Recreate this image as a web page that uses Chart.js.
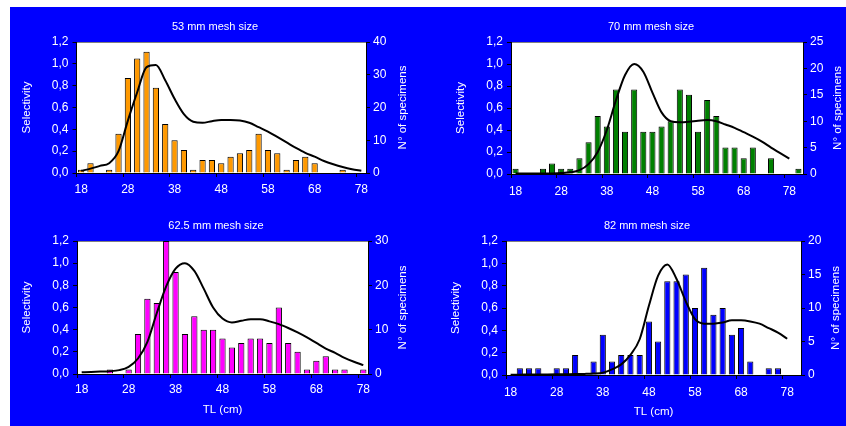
<!DOCTYPE html>
<html>
<head>
<meta charset="utf-8">
<title>Gillnet selectivity by mesh size</title>
<script src="https://cdn.jsdelivr.net/npm/chart.js@4/dist/chart.umd.min.js"></script>
<style>
  html, body { margin: 0; padding: 0; width: 846px; height: 426px; overflow: hidden; background: #ffffff; }
  #board { position: absolute; left: 10px; top: 7px; right: 0; bottom: 0; background: #0000ff; }
  canvas { position: absolute; }
</style>
</head>
<body>
<div id="board"></div>
<canvas id="c53" width="413" height="206" style="left:10px;top:7px"></canvas>
<canvas id="c70" width="423" height="206" style="left:423px;top:7px"></canvas>
<canvas id="c625" width="413" height="213" style="left:10px;top:213px"></canvas>
<canvas id="c82" width="423" height="213" style="left:423px;top:213px"></canvas>
<script>
// Total length classes (cm), 2 cm bins
const lengthClasses = ['18','20','22','24','26','28','30','32','34','36','38','40','42','44','46','48','50','52','54','56','58','60','62','64','66','68','70','72','74','76','78'];
const lengthClassesTo80 = ['18','20','22','24','26','28','30','32','34','36','38','40','42','44','46','48','50','52','54','56','58','60','62','64','66','68','70','72','74','76','78','80'];

// 53 mm mesh
const specimens53   = [1, 3, 0, 1, 12, 29, 35, 37, 26, 15, 10, 7, 1, 4, 4, 3, 5, 6, 7, 12, 7, 6, 1, 4, 5, 3, 0, 0, 1, 0, 0];
const selectivity53 = [0.02, 0.04, 0.065, 0.09, 0.2, 0.48, 0.74, 0.97, 0.99, 0.85, 0.68, 0.54, 0.47, 0.46, 0.475, 0.485, 0.485, 0.48, 0.46, 0.42, 0.38, 0.33, 0.28, 0.23, 0.185, 0.15, 0.11, 0.08, 0.055, 0.035, 0.02];

// 70 mm mesh
const specimens70   = [1, 0, 0, 1, 2, 1, 1, 3, 6, 11, 9, 16, 8, 16, 8, 8, 9, 10, 16, 15, 8, 14, 11, 5, 5, 3, 5, 0, 3, 0, 0, 1];
const selectivity70 = [0.005, 0.004, 0.004, 0.004, 0.005, 0.008, 0.015, 0.035, 0.09, 0.2, 0.4, 0.67, 0.9, 1.0, 0.93, 0.74, 0.56, 0.48, 0.47, 0.475, 0.485, 0.49, 0.48, 0.45, 0.42, 0.38, 0.34, 0.295, 0.24, 0.19, 0.14, null];

// 62.5 mm mesh
const specimens625   = [0, 0, 0, 1, 0, 1, 9, 17, 16, 30, 23, 9, 13, 10, 10, 8, 6, 7, 8, 8, 7, 15, 7, 5, 1, 3, 4, 1, 1, 0, 1];
const selectivity625 = [0.015, 0.018, 0.022, 0.025, 0.035, 0.065, 0.14, 0.29, 0.55, 0.79, 0.95, 1.0, 0.93, 0.77, 0.6, 0.5, 0.465, 0.48, 0.495, 0.495, 0.475, 0.45, 0.415, 0.375, 0.33, 0.28, 0.23, 0.19, 0.145, 0.11, 0.08];

// 82 mm mesh
const specimens82   = [0, 1, 1, 1, 0, 1, 1, 3, 0, 2, 6, 2, 3, 3, 3, 8, 5, 14, 14, 15, 10, 16, 9, 10, 6, 7, 2, 0, 1, 1, 0, 0];
const selectivity82 = [0.003, 0.003, 0.004, 0.004, 0.005, 0.006, 0.007, 0.008, 0.01, 0.013, 0.02, 0.05, 0.095, 0.18, 0.32, 0.62, 0.89, 0.99, 0.86, 0.66, 0.5, 0.46, 0.46, 0.47, 0.49, 0.49, 0.48, 0.46, 0.42, 0.38, 0.325, null];

const FONT = '"Liberation Sans", Arial, Helvetica, sans-serif';
Chart.defaults.font.family = FONT;
Chart.defaults.color = '#ffffff';

// White plot area, grey top frame, panel heading and right-hand axis title
const panelDecor = {
  id: 'panelDecor',
  beforeDraw(chart) {
    const { ctx, chartArea: a } = chart;
    ctx.save();
    ctx.fillStyle = '#ffffff';
    ctx.fillRect(a.left, a.top, a.right - a.left, a.bottom - a.top);
    ctx.strokeStyle = '#808080';
    ctx.lineWidth = 1;
    ctx.beginPath();
    const y = Math.round(a.top) + 0.5;
    ctx.moveTo(a.left, y);
    ctx.lineTo(a.right, y);
    ctx.stroke();
    ctx.restore();
  },
  afterDraw(chart, args, opts) {
    const { ctx, chartArea: a } = chart;
    ctx.save();
    ctx.fillStyle = '#ffffff';
    ctx.textAlign = 'center';
    ctx.textBaseline = 'middle';
    ctx.font = '11px ' + FONT;
    ctx.fillText(opts.title, opts.titleX, opts.titleY);
    ctx.font = '11.5px ' + FONT;
    ctx.translate(opts.rightTitleX, (a.top + a.bottom) / 2);
    ctx.rotate(-Math.PI / 2);
    ctx.fillText('N° of specimens', 0, 0);
    ctx.restore();
  }
};

function buildPanel(p) {
  return new Chart(document.getElementById(p.id), {
    type: 'bar',
    data: {
      labels: p.labels,
      datasets: [
        {
          type: 'line',
          data: p.selectivity,
          yAxisID: 'y',
          borderColor: '#000000',
          borderWidth: 2,
          pointRadius: 0,
          fill: false,
          cubicInterpolationMode: 'monotone',
          order: 0
        },
        {
          type: 'bar',
          data: p.specimens,
          yAxisID: 'y1',
          backgroundColor: p.color,
          borderColor: '#000000',
          borderWidth: 1,
          barPercentage: 0.667,
          categoryPercentage: 1,
          order: 1
        }
      ]
    },
    options: {
      responsive: false,
      animation: false,
      events: [],
      layout: { padding: { top: p.padTop, left: 0, right: 0, bottom: 0 } },
      plugins: {
        legend: { display: false },
        tooltip: { enabled: false },
        panelDecor: { title: p.title, titleX: p.titleX, titleY: p.titleY, rightTitleX: p.rightTitleX }
      },
      scales: {
        x: {
          offset: true,
          afterFit: s => { s.height = p.xHeight; },
          grid: {
            offset: true,
            drawOnChartArea: false,
            drawTicks: true,
            tickLength: 4,
            color: ctx => (ctx.index !== undefined && ctx.index % 5 === 0) ? '#000000' : 'rgba(0,0,0,0)'
          },
          border: { color: '#000000', width: 1 },
          ticks: {
            autoSkip: false,
            maxRotation: 0,
            minRotation: 0,
            padding: p.xTickPad,
            color: '#ffffff',
            font: { size: 12 },
            callback: function (v, i) { return i % 5 === 0 ? this.getLabelForValue(v) : ''; }
          },
          title: {
            display: p.showX,
            text: 'TL (cm)',
            color: '#ffffff',
            font: { size: 11.5 },
            padding: { top: 0, bottom: p.xTitlePad }
          }
        },
        y: {
          position: 'left',
          min: 0,
          max: 1.2,
          afterFit: s => { s.width = p.leftW; },
          grid: { drawOnChartArea: false, drawTicks: true, tickLength: 4, color: '#000000' },
          border: { color: '#000000', width: 1 },
          ticks: {
            stepSize: 0.2,
            padding: 4,
            color: '#ffffff',
            font: { size: 12 },
            callback: v => v.toFixed(1).replace('.', ',')
          },
          title: {
            display: true,
            text: 'Selectivity',
            color: '#ffffff',
            font: { size: 11.5 },
            padding: { top: p.leftTitlePad, bottom: 0 }
          }
        },
        y1: {
          position: 'right',
          min: 0,
          max: p.nMax,
          afterFit: s => { s.width = p.rightW; },
          grid: { drawOnChartArea: false, drawTicks: true, tickLength: 4, color: '#000000' },
          border: { color: '#000000', width: 1 },
          ticks: {
            stepSize: p.nStep,
            padding: 3,
            color: '#ffffff',
            font: { size: 12 }
          }
        }
      }
    },
    plugins: [panelDecor]
  });
}

buildPanel({
  id: 'c53', title: '53 mm mesh size', labels: lengthClasses,
  specimens: specimens53, selectivity: selectivity53, color: '#ff9900',
  nMax: 40, nStep: 10,
  padTop: 35, leftW: 66.5, rightW: 57, xHeight: 40, xTickPad: 5,
  titleX: 205, titleY: 20, rightTitleX: 393, leftTitlePad: 10,
  showX: false, xTitlePad: 0
});

buildPanel({
  id: 'c70', title: '70 mm mesh size', labels: lengthClassesTo80,
  specimens: specimens70, selectivity: selectivity70, color: '#008000',
  nMax: 25, nStep: 5,
  padTop: 35, leftW: 88, rightW: 43, xHeight: 39, xTickPad: 6,
  titleX: 228, titleY: 20, rightTitleX: 415, leftTitlePad: 31,
  showX: false, xTitlePad: 0
});

buildPanel({
  id: 'c625', title: '62.5 mm mesh size', labels: lengthClasses,
  specimens: specimens625, selectivity: selectivity625, color: '#ff00ff',
  nMax: 30, nStep: 10,
  padTop: 28, leftW: 67, rightW: 55, xHeight: 52, xTickPad: 4,
  titleX: 206, titleY: 13, rightTitleX: 393, leftTitlePad: 10,
  showX: true, xTitlePad: 9
});

buildPanel({
  id: 'c82', title: '82 mm mesh size', labels: lengthClassesTo80,
  specimens: specimens82, selectivity: selectivity82, color: '#0000ff',
  nMax: 20, nStep: 5,
  padTop: 28, leftW: 83, rightW: 45, xHeight: 51, xTickPad: 6,
  titleX: 224, titleY: 13, rightTitleX: 412.5, leftTitlePad: 26,
  showX: true, xTitlePad: 7
});
</script>
</body>
</html>
